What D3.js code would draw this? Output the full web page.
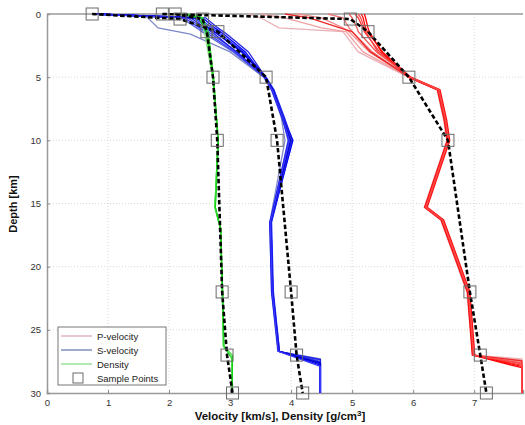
<!DOCTYPE html>
<html><head><meta charset="utf-8">
<script src="https://cdn.jsdelivr.net/npm/d3@7"></script>
<style>body{margin:0;background:#fff}svg{display:block;font-family:"Liberation Sans",Arial,sans-serif}</style>
</head><body>
<svg id="c" width="525" height="425"></svg>
<script>
// ---- data ----
const xTicks = [0,1,2,3,4,5,6,7];
const yTicks = [0,5,10,15,20,25,30];

// P-velocity ensemble (km/s) at pDepths, plus shoulder depth & edge value
const pDepths = [0, 0.3, 1.1, 1.4, 3, 5, 6, 8.4, 10, 15.3, 16.3, 22, 27];
const pMembers = [
  [3.30, 3.50, 3.80, 4.85, 5.10, 5.92, 6.39, 6.50, 6.55, 6.18, 6.45, 6.88, 6.97],
  [3.50, 3.90, 4.50, 4.90, 5.18, 5.93, 6.41, 6.52, 6.57, 6.20, 6.47, 6.90, 6.98],
  [4.10, 4.50, 4.85, 4.95, 5.28, 5.94, 6.42, 6.53, 6.58, 6.21, 6.48, 6.91, 6.99],
  [4.60, 4.85, 4.95, 5.00, 5.33, 5.93, 6.40, 6.51, 6.56, 6.19, 6.46, 6.89, 6.98],
  [4.95, 5.00, 5.08, 5.10, 5.40, 5.95, 6.43, 6.54, 6.59, 6.22, 6.49, 6.92, 7.00],
  [5.05, 5.10, 5.18, 5.20, 5.45, 5.94, 6.42, 6.52, 6.57, 6.20, 6.47, 6.90, 6.98],
  [5.15, 5.18, 5.22, 5.25, 5.50, 5.96, 6.44, 6.55, 6.60, 6.23, 6.50, 6.93, 7.01],
  [5.20, 5.22, 5.26, 5.28, 5.48, 5.92, 6.40, 6.51, 6.56, 6.19, 6.46, 6.89, 6.97],
  [3.90, 4.30, 4.80, 5.00, 5.30, 5.93, 6.41, 6.52, 6.57, 6.20, 6.47, 6.90, 6.98],
  [5.10, 5.14, 5.20, 5.22, 5.42, 5.95, 6.42, 6.53, 6.58, 6.21, 6.48, 6.91, 6.99]
];
const pShoulder = [27.3, 27.4, 27.5, 27.6, 27.7, 27.8, 27.9, 28.0, 27.45, 27.65];
const pEdge = [7.78, 7.78, 7.78, 7.78, 7.78, 7.78, 7.78, 7.78, 7.78, 7.78];

// S-velocity ensemble (km/s)
const sDepths = [0, 0.3, 1.1, 1.6, 3, 5, 6, 8.2, 10, 16.5, 22, 26.7];
const sMembers = [
  [1.57, 1.65, 1.82, 2.35, 3.00, 3.55, 3.68, 3.84, 3.90, 3.65, 3.68, 3.78],
  [0.76, 2.20, 2.45, 2.60, 3.05, 3.56, 3.69, 3.86, 3.95, 3.66, 3.69, 3.79],
  [0.78, 2.30, 2.55, 2.70, 3.12, 3.57, 3.70, 3.87, 3.98, 3.67, 3.70, 3.80],
  [0.75, 2.40, 2.65, 2.80, 3.18, 3.58, 3.71, 3.88, 4.00, 3.66, 3.69, 3.80],
  [0.80, 2.50, 2.70, 2.85, 3.22, 3.59, 3.72, 3.89, 4.02, 3.68, 3.71, 3.81],
  [0.77, 2.55, 2.75, 2.90, 3.25, 3.57, 3.70, 3.87, 4.03, 3.67, 3.70, 3.80],
  [0.79, 2.35, 2.60, 2.75, 3.10, 3.56, 3.68, 3.85, 3.96, 3.65, 3.68, 3.79],
  [0.76, 2.60, 2.80, 2.95, 3.30, 3.58, 3.71, 3.88, 4.01, 3.67, 3.70, 3.81],
  [0.78, 2.45, 2.65, 2.80, 3.20, 3.57, 3.70, 3.86, 3.99, 3.66, 3.69, 3.80],
  [0.75, 2.25, 2.50, 2.65, 3.08, 3.56, 3.69, 3.86, 3.97, 3.66, 3.69, 3.79]
];
const sShoulder = [27.3, 27.4, 27.5, 27.6, 27.7, 27.8, 27.35, 27.55, 27.65, 27.9];
const sEdge = [4.48, 4.48, 4.48, 4.48, 4.48, 4.48, 4.48, 4.48, 4.48, 4.48];

// Density ensemble (g/cm3)
const dDepths = [0, 0.3, 1.5, 5, 10, 15.3, 17, 22, 26.3];
const dMembers = [
  [2.20, 2.50, 2.58, 2.71, 2.80, 2.75, 2.84, 2.87, 2.89],
  [2.25, 2.52, 2.60, 2.72, 2.81, 2.76, 2.85, 2.87, 2.90],
  [2.30, 2.55, 2.62, 2.72, 2.80, 2.75, 2.84, 2.88, 2.89],
  [2.15, 2.48, 2.63, 2.73, 2.81, 2.76, 2.85, 2.88, 2.90],
  [2.35, 2.56, 2.65, 2.73, 2.80, 2.75, 2.84, 2.87, 2.89]
];
const dShoulder = [27.1, 27.2, 27.3, 27.0, 27.25];
const dEdge = [3.03, 3.04, 3.03, 3.04, 3.03];

// Sample points (reference model)
const sampleDepths = [0, 0.4, 1.4, 5, 10, 22, 27, 30];
const sampleP   = [1.89, 4.97, 5.26, 5.93, 6.57, 6.93, 7.10, 7.20];
const sampleS   = [0.74, 2.18, 2.80, 3.59, 3.77, 4.00, 4.09, 4.19];
const sampleRho = [2.10, 2.55, 2.62, 2.72, 2.79, 2.87, 2.95, 3.04];

const legendLabels = ["P-velocity", "S-velocity", "Density", "Sample Points"];

// ---- drawing ----
const svg = d3.select("#c");
const L = 47, R = 523, T = 14, B = 393;
const x = d3.scaleLinear().domain([0, 7.8]).range([L, R]);
const y = d3.scaleLinear().domain([0, 30]).range([T, B]);

svg.append("defs").append("clipPath").attr("id","clip")
  .append("rect").attr("x", L).attr("y", T-2).attr("width", R-L).attr("height", B-T+4);

// grid
const grid = svg.append("g");
grid.selectAll("line.gx").data(xTicks.filter(d=>d>0)).join("line")
  .attr("x1", d=>x(d)).attr("x2", d=>x(d)).attr("y1", T).attr("y2", B)
  .attr("stroke", "#cfcfcf").attr("stroke-width", 0.8).attr("stroke-dasharray", "1,2");
grid.selectAll("line.gy").data(yTicks.filter(d=>d>0 && d<30)).join("line")
  .attr("y1", d=>y(d)).attr("y2", d=>y(d)).attr("x1", L).attr("x2", R)
  .attr("stroke", "#cfcfcf").attr("stroke-width", 0.8).attr("stroke-dasharray", "1,2");

// axes
const gx = svg.append("g").attr("transform", `translate(0,${B})`)
  .call(d3.axisBottom(x).tickValues(xTicks).tickSize(-3).tickPadding(6).tickFormat(d3.format("d")));
const gy = svg.append("g").attr("transform", `translate(${L},0)`)
  .call(d3.axisLeft(y).tickValues(yTicks).tickSize(-3).tickPadding(6).tickFormat(d3.format("d")));
[gx, gy].forEach(g => {
  g.select(".domain").attr("stroke", "#999").attr("stroke-width", 1.5);
  g.selectAll(".tick line").attr("stroke", "#888");
  g.selectAll(".tick text").attr("font-size", 9.5).attr("fill", "#333")
    .attr("font-family", "Liberation Sans, Arial, sans-serif");
});
svg.append("line").attr("x1", L).attr("x2", R).attr("y1", T).attr("y2", T)
  .attr("stroke", "#999").attr("stroke-width", 1.5);

const plot = svg.append("g").attr("clip-path", "url(#clip)");
const line = d3.line().x(d=>x(d[1])).y(d=>y(d[0]));

function ensemble(depths, members, shoulder, edge, colors, w) {
  members.forEach((vals, i) => {
    const pts = depths.map((d, j) => [d, vals[j]]);
    pts.push([shoulder[i], edge[i]]);
    pts.push([30, edge[i]]);
    plot.append("path").attr("d", line(pts)).attr("fill", "none")
      .attr("stroke", colors[i % colors.length]).attr("stroke-width", w);
  });
}
const pColors = ["#eab0b8","#f0a0a0","#f29090","#f07878","#f05858","#ff3030","#ff1010","#ff0000","#ee2828","#ff4848"];
const sColors = ["#7f88c8","#5868d8","#4050e0","#3040f0","#2030ff","#0000ff","#1a1aee","#2424dd","#0000cc","#3838ff"];
const dColors = ["#88e088","#40e040","#20d020","#00cc00","#30e030"];
ensemble(pDepths, pMembers, pShoulder, pEdge, pColors, 1.3);
ensemble(sDepths, sMembers, sShoulder, sEdge, sColors, 1.3);
ensemble(dDepths, dMembers, dShoulder, dEdge, dColors, 1);

// reference dashed lines and squares
[sampleP, sampleS, sampleRho].forEach(vals => {
  const pts = sampleDepths.map((d, j) => [d, vals[j]]);
  plot.append("path").attr("d", line(pts)).attr("fill", "none")
    .attr("stroke", "#000").attr("stroke-width", 2.6).attr("stroke-dasharray", "4.5,2.5");
});
[sampleP, sampleS, sampleRho].forEach(vals => {
  svg.append("g").selectAll("rect").data(sampleDepths.map((d, j) => [d, vals[j]])).join("rect")
    .attr("x", d=>x(d[1]) - 6).attr("y", d=>y(d[0]) - 6).attr("width", 12).attr("height", 12)
    .attr("fill", "none").attr("stroke", "#6a6a6a").attr("stroke-width", 1);
});

// legend
const lg = svg.append("g");
lg.append("rect").attr("x", 58).attr("y", 327).attr("width", 108).attr("height", 58)
  .attr("fill", "#fff").attr("stroke", "#777").attr("stroke-width", 1);
const legColors = ["#d6a4b2", "#6570b0", "#80dc80"];
const rowsY = [336, 350, 364, 378];
legendLabels.forEach((t, i) => {
  if (i < 3) {
    lg.append("line").attr("x1", 61).attr("x2", 92).attr("y1", rowsY[i]).attr("y2", rowsY[i])
      .attr("stroke", legColors[i]).attr("stroke-width", 1.2);
  } else {
    lg.append("rect").attr("x", 73).attr("y", rowsY[i]-5).attr("width", 10).attr("height", 10)
      .attr("fill", "none").attr("stroke", "#6a6a6a");
  }
  lg.append("text").attr("x", 97).attr("y", rowsY[i] + 3.5).attr("font-size", 9.5)
    .attr("fill", "#222").text(t);
});

// axis titles
const xt = svg.append("text").attr("x", 280).attr("y", 420).attr("text-anchor", "middle")
  .attr("font-size", 11.5).attr("font-weight", "bold").attr("fill", "#111");
xt.append("tspan").text("Velocity [km/s], Density [g/cm");
xt.append("tspan").attr("dy", -4).attr("font-size", 8).text("3");
xt.append("tspan").attr("dy", 4).text("]");
svg.append("text").attr("transform", "translate(17,204) rotate(-90)").attr("text-anchor", "middle")
  .attr("font-size", 11).attr("font-weight", "bold").attr("fill", "#111").text("Depth [km]");
</script>
</body></html>
